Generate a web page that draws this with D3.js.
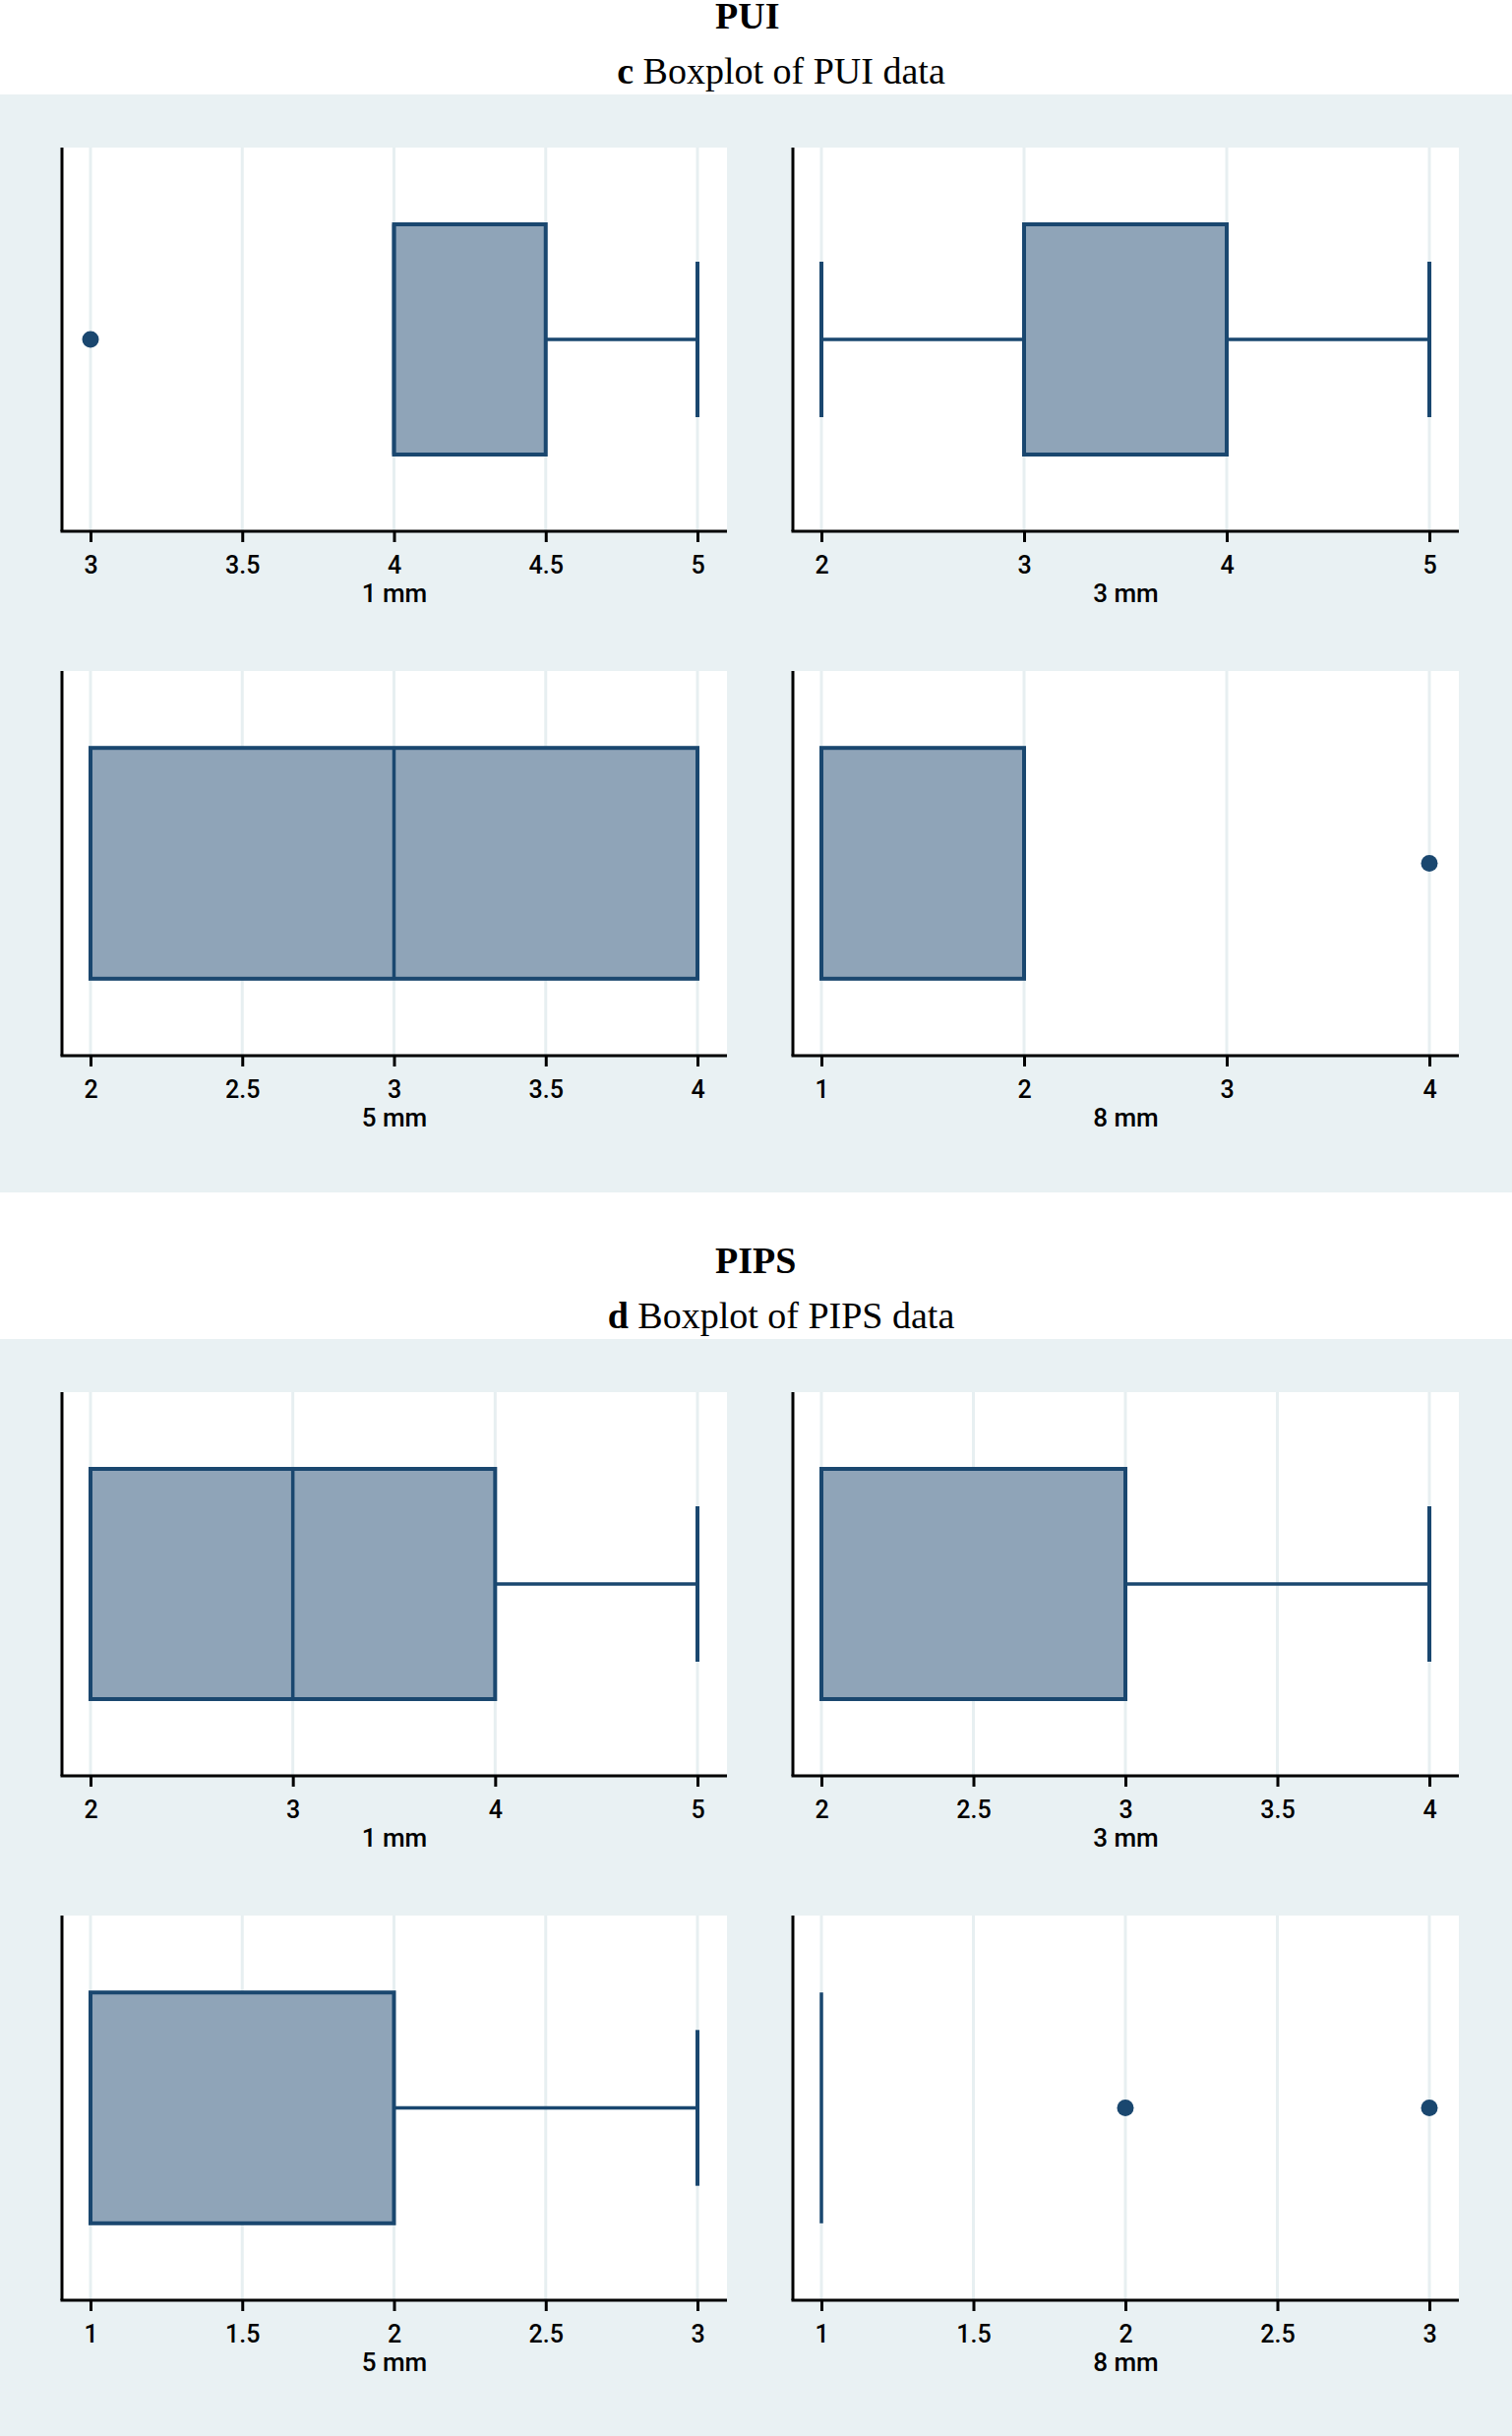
<!DOCTYPE html>
<html>
<head>
<meta charset="utf-8">
<script src="https://cdn.jsdelivr.net/npm/d3@7"></script>
<style>
  body { margin: 0; background: #fff; }
  .tick text { font-family: Roboto, "Liberation Sans", Arial, sans-serif; font-weight: 500; font-size: 25px; fill: #000; }
  .tick line { stroke: #000; stroke-width: 3; }
  .axis-title { font-family: Roboto, "Liberation Sans", Arial, sans-serif; font-weight: 500; font-size: 26px; fill: #000; text-anchor: middle; }
  .sec-title { font-family: "Liberation Serif", "Times New Roman", serif; font-size: 38px; font-weight: bold; }
  .sec-sub { font-family: "Liberation Serif", "Times New Roman", serif; font-size: 38px; text-anchor: middle; }
</style>
</head>
<body>
<div id="chart"></div>
<script>

//////////////////////////////// Data ////////////////////////////////////

var sectionNames = ["PUI", "PIPS"];
var sectionLetters = ["c", "d"];
var sizeLabels = ["1 mm", "3 mm", "5 mm", "8 mm"];

// PUI box stats per size
var puiLower    = [4, 2, 2, 1];
var puiQ1       = [4, 3, 2, 1];
var puiMedian   = [4, 3, 3, 1];
var puiQ3       = [4.5, 4, 4, 2];
var puiUpper    = [5, 5, 4, 2];
var puiOutliers = [[3], [], [], [4]];
var puiTicks    = [[3, 3.5, 4, 4.5, 5], [2, 3, 4, 5], [2, 2.5, 3, 3.5, 4], [1, 2, 3, 4]];

// PIPS box stats per size
var pipsLower    = [2, 2, 1, 1];
var pipsQ1       = [2, 2, 1, 1];
var pipsMedian   = [3, 2, 1, 1];
var pipsQ3       = [4, 3, 2, 1];
var pipsUpper    = [5, 4, 3, 1];
var pipsOutliers = [[], [], [], [2, 3]];
var pipsTicks    = [[2, 3, 4, 5], [2, 2.5, 3, 3.5, 4], [1, 1.5, 2, 2.5, 3], [1, 1.5, 2, 2.5, 3]];

function buildPanels(lower, q1, median, q3, upper, outliers, ticks) {
  return sizeLabels.map(function(lab, i) {
    return {label: lab, lower: lower[i], q1: q1[i], median: median[i], q3: q3[i],
            upper: upper[i], outliers: outliers[i], ticks: ticks[i]};
  });
}

var sectionData = [
  buildPanels(puiLower, puiQ1, puiMedian, puiQ3, puiUpper, puiOutliers, puiTicks),
  buildPanels(pipsLower, pipsQ1, pipsMedian, pipsQ3, pipsUpper, pipsOutliers, pipsTicks)
];

/////////////////////////////// Layout ///////////////////////////////////

var width = 1537, height = 2476;
var sectionStep = 1265;
var bandTop = 96, bandBottom = 1212;
var cols = [{left: 63, right: 739}, {left: 806, right: 1483}];
var rows = [{top: 150, bottom: 540}, {top: 682, bottom: 1073}];
var padLeft = 29, padRight = 30;

var navy = "#1a476f";
var boxFill = "#8fa4b8";
var bandColor = "#e9f1f3";
var gridColor = "#e7eff1";

var svg = d3.select("#chart").append("svg")
  .attr("width", width)
  .attr("height", height);

svg.append("rect").attr("width", width).attr("height", height).style("fill", "#fff");

sectionData.forEach(function(panels, s) {
  var oy = s * sectionStep;

  svg.append("rect")
    .attr("x", 0).attr("y", bandTop + oy)
    .attr("width", width).attr("height", bandBottom - bandTop)
    .style("fill", bandColor);

  svg.append("text")
    .attr("class", "sec-title")
    .attr("x", 727).attr("y", 29 + oy)
    .text(sectionNames[s]);

  var sub = svg.append("text")
    .attr("class", "sec-sub")
    .attr("x", 794).attr("y", 85 + oy);
  sub.append("tspan").style("font-weight", "bold").text(sectionLetters[s]);
  sub.append("tspan").text(" Boxplot of " + sectionNames[s] + " data");

  panels.forEach(function(d, i) {
    var col = cols[i % 2], row = rows[Math.floor(i / 2)];
    var top = row.top + oy, bottom = row.bottom + oy;
    var ph = bottom - top;
    var cy = top + ph / 2;
    var boxH = ph * 0.6, capH = ph * 0.405;

    var x = d3.scaleLinear()
      .domain(d3.extent(d.ticks))
      .range([col.left + padLeft, col.right - padRight]);

    var g = svg.append("g");

    // plot region
    g.append("rect")
      .attr("x", col.left).attr("y", top)
      .attr("width", col.right - col.left).attr("height", ph)
      .style("fill", "#fff");

    // grid
    g.selectAll(".grid")
      .data(d.ticks)
      .enter().append("line")
      .attr("class", "grid")
      .attr("x1", function(t) { return x(t); })
      .attr("x2", function(t) { return x(t); })
      .attr("y1", top).attr("y2", bottom)
      .style("stroke", gridColor)
      .style("stroke-width", 3);

    // whiskers
    var whiskers = [];
    if (d.upper > d.q3) whiskers.push([d.q3, d.upper]);
    if (d.lower < d.q1) whiskers.push([d.q1, d.lower]);
    whiskers.forEach(function(w) {
      g.append("line")
        .attr("x1", x(w[0])).attr("x2", x(w[1]))
        .attr("y1", cy).attr("y2", cy)
        .style("stroke", navy).style("stroke-width", 3.5);
      g.append("line")
        .attr("x1", x(w[1])).attr("x2", x(w[1]))
        .attr("y1", cy - capH / 2).attr("y2", cy + capH / 2)
        .style("stroke", navy).style("stroke-width", 4);
    });

    // box
    g.append("rect")
      .attr("x", x(d.q1)).attr("y", cy - boxH / 2)
      .attr("width", x(d.q3) - x(d.q1)).attr("height", boxH)
      .style("fill", boxFill)
      .style("stroke", navy)
      .style("stroke-width", 4);

    // median
    g.append("line")
      .attr("x1", x(d.median)).attr("x2", x(d.median))
      .attr("y1", cy - boxH / 2).attr("y2", cy + boxH / 2)
      .style("stroke", navy).style("stroke-width", 3.5);

    // outliers
    g.selectAll(".outlier")
      .data(d.outliers)
      .enter().append("circle")
      .attr("class", "outlier")
      .attr("cx", function(v) { return x(v); })
      .attr("cy", cy)
      .attr("r", 8.5)
      .style("fill", navy);

    // axes
    var axis = g.append("g")
      .attr("transform", "translate(0," + bottom + ")")
      .call(d3.axisBottom(x).tickValues(d.ticks).tickSize(11).tickPadding(14).tickFormat(d3.format("")));
    axis.select(".domain").remove();

    g.append("line")
      .attr("x1", col.left - 1.5).attr("x2", col.right)
      .attr("y1", bottom).attr("y2", bottom)
      .style("stroke", "#000").style("stroke-width", 3);
    g.append("line")
      .attr("x1", col.left).attr("x2", col.left)
      .attr("y1", top).attr("y2", bottom)
      .style("stroke", "#000").style("stroke-width", 3);

    g.append("text")
      .attr("class", "axis-title")
      .attr("x", (col.left + col.right) / 2)
      .attr("y", bottom + 72)
      .text(d.label);
  });
});

</script>
</body>
</html>
